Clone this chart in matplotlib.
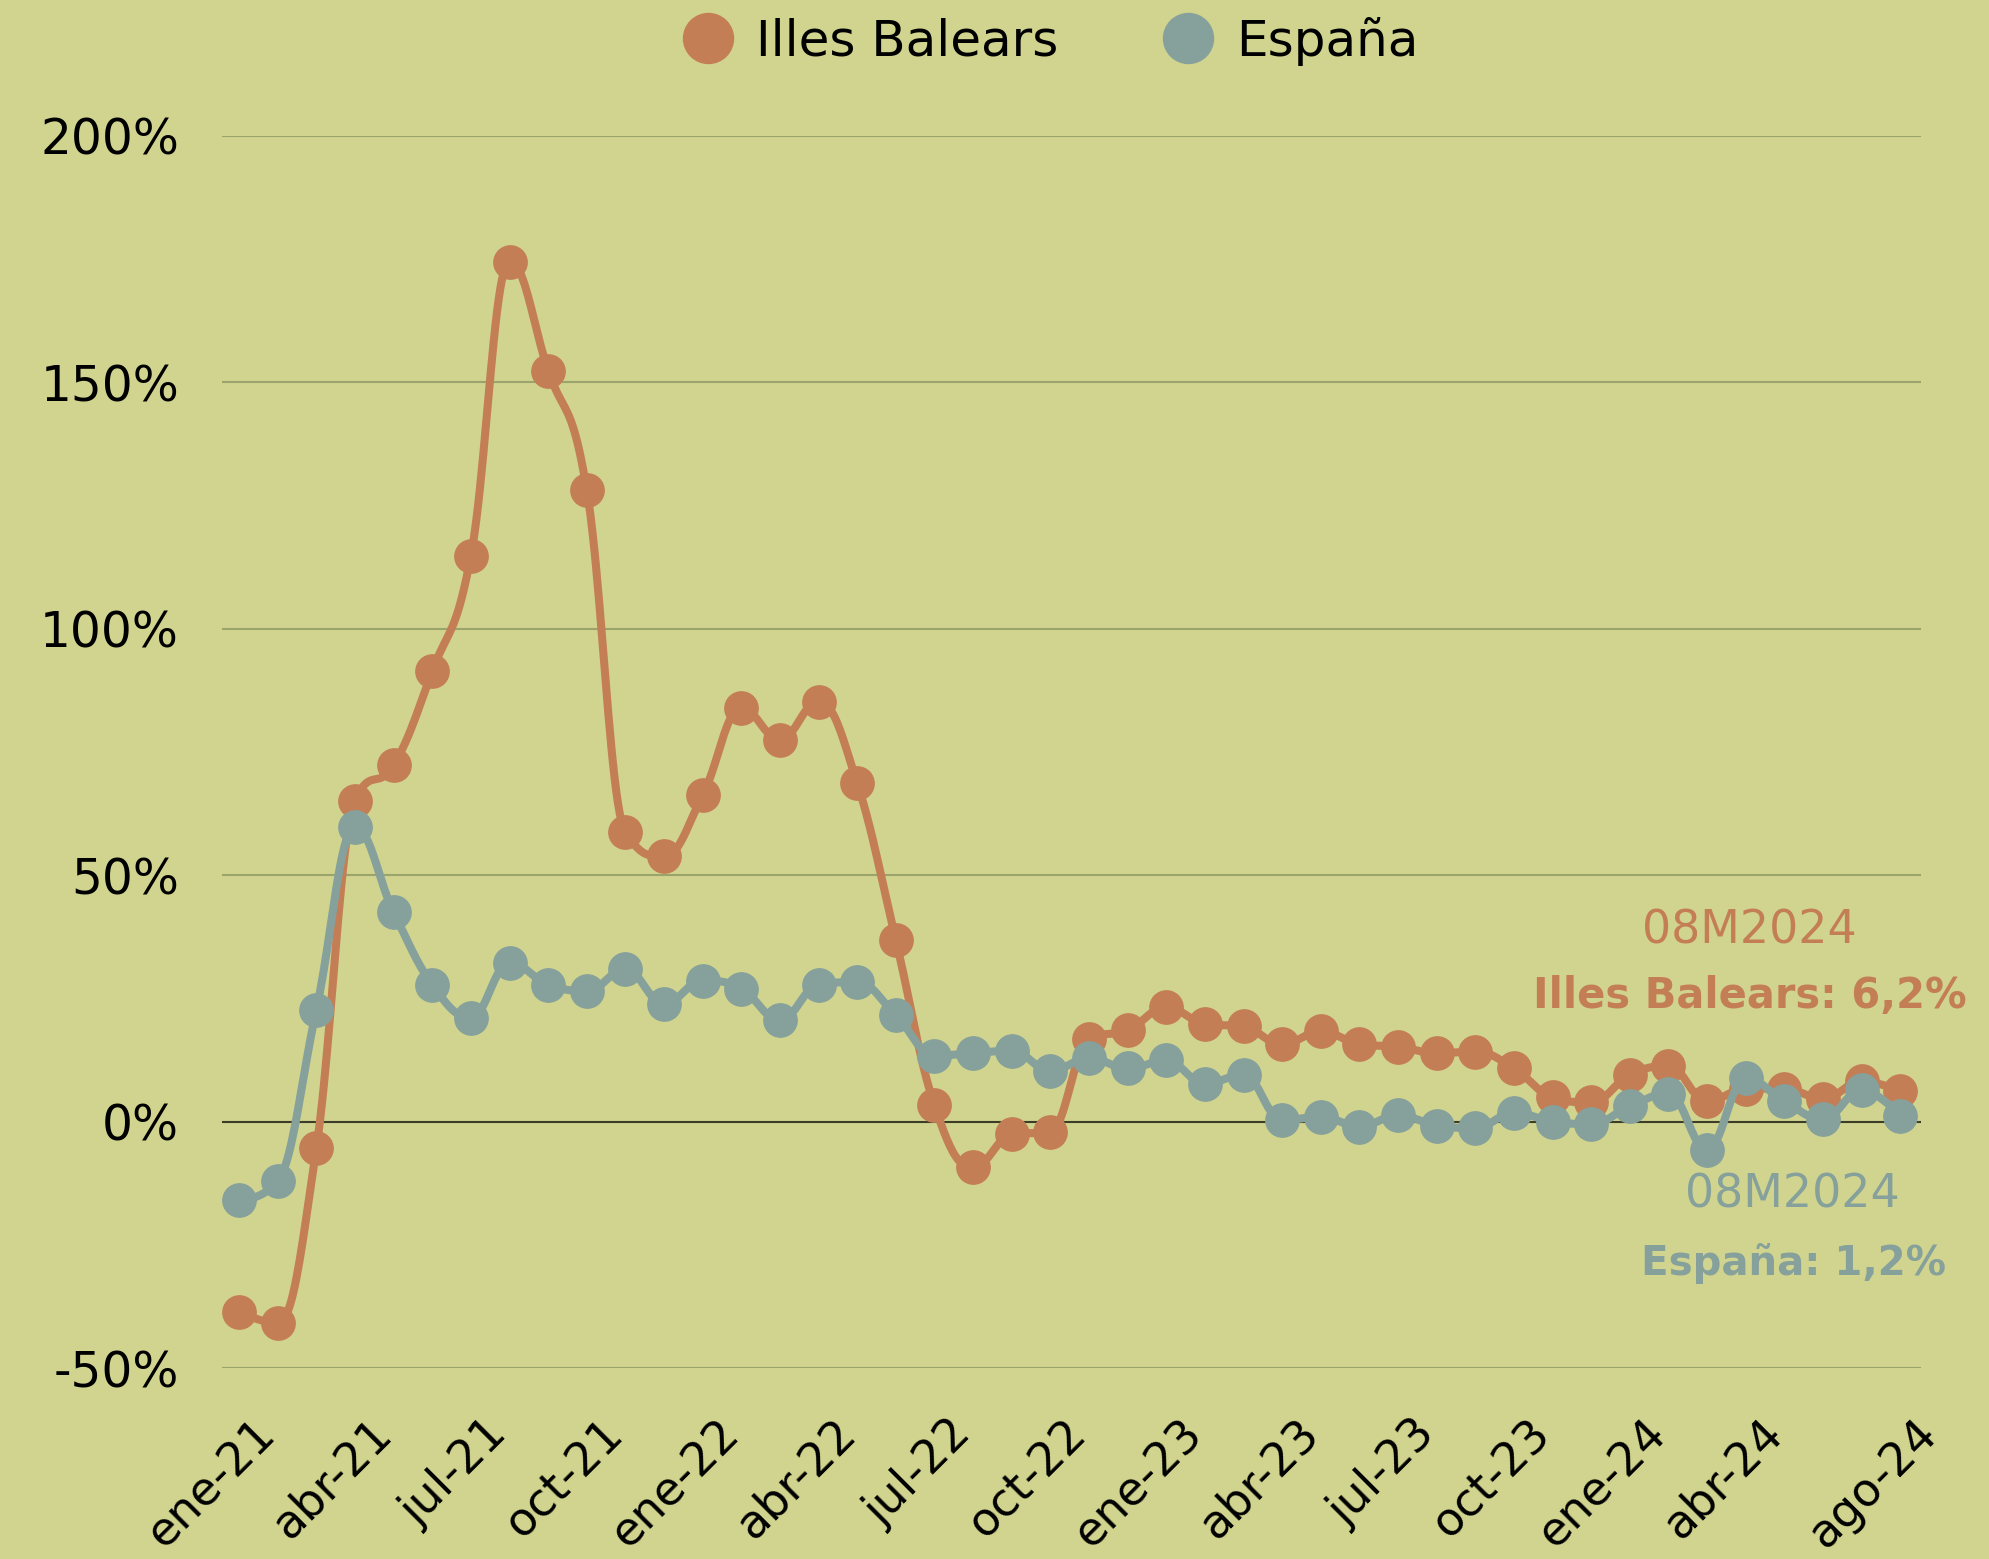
import numpy as np
import matplotlib.pyplot as plt
import matplotlib.transforms as mtransforms
from matplotlib.lines import Line2D

plt.rcParams['font.family'] = ['DejaVu Sans']

# monthly series, ene-21 .. ago-24 (% change)
months = ['ene', 'feb', 'mar', 'abr', 'may', 'jun', 'jul', 'ago', 'sep', 'oct', 'nov', 'dic']
years = [21, 22, 23, 24]
baleares = [-38.6, -40.9, -5.4, 65.1, 72.3, 91.4, 114.8, 174.5, 152.4, 128.2, 58.7, 53.8,
            66.2, 83.9, 77.5, 85.2, 68.7, 36.8, 3.3, -9.3, -2.6, -2.1, 16.7, 18.5,
            23.2, 19.8, 19.3, 15.7, 18.3, 15.7, 15.2, 13.9, 14.2, 10.8, 4.9, 3.9,
            9.5, 11.3, 4.1, 6.7, 6.7, 4.6, 8.2, 6.2]
espana = [-16.0, -12.1, 22.7, 59.7, 42.5, 27.8, 21.1, 32.2, 27.8, 26.5, 30.9, 23.9,
          28.6, 27.0, 20.6, 27.8, 28.3, 21.6, 13.4, 13.9, 14.4, 10.3, 12.9, 10.8,
          12.4, 7.7, 9.5, 0.3, 1.0, -1.0, 1.3, -0.8, -1.3, 1.8, 0.0, -0.5,
          3.1, 5.7, -5.7, 8.8, 4.1, 0.5, 6.4, 1.2]
yticks = [-50, 0, 50, 100, 150, 200]

labels = [f'{m}-{y}' for y in years for m in months][:len(baleares)]

ORANGE = '#c47e55'
GRAY = '#86a19c'
BG = '#d1d48e'


def spline(x, y, n=24, k=1.5):
    # Highcharts-style spline: bezier control points, clamped at extremes
    x = np.asarray(x, float)
    y = np.asarray(y, float)
    m = len(x)
    lc = np.column_stack([x, y]).copy()
    rc = np.column_stack([x, y]).copy()
    for i in range(1, m - 1):
        lx = (k * x[i] + x[i - 1]) / (k + 1)
        ly = (k * y[i] + y[i - 1]) / (k + 1)
        rx = (k * x[i] + x[i + 1]) / (k + 1)
        ry = (k * y[i] + y[i + 1]) / (k + 1)
        corr = (ry - ly) * (rx - x[i]) / (rx - lx) + y[i] - ry
        ly += corr
        ry += corr
        if ly > y[i - 1] and ly > y[i]:
            ly = max(y[i - 1], y[i]); ry = 2 * y[i] - ly
        elif ly < y[i - 1] and ly < y[i]:
            ly = min(y[i - 1], y[i]); ry = 2 * y[i] - ly
        if ry > y[i + 1] and ry > y[i]:
            ry = max(y[i + 1], y[i]); ly = 2 * y[i] - ry
        elif ry < y[i + 1] and ry < y[i]:
            ry = min(y[i + 1], y[i]); ly = 2 * y[i] - ry
        lc[i] = lx, ly
        rc[i] = rx, ry
    t = np.linspace(0, 1, n)[:, None]
    segs = []
    for i in range(m - 1):
        p0 = np.array([x[i], y[i]])
        p3 = np.array([x[i + 1], y[i + 1]])
        p1, p2 = rc[i], lc[i + 1]
        segs.append((1 - t) ** 3 * p0 + 3 * (1 - t) ** 2 * t * p1
                    + 3 * (1 - t) * t ** 2 * p2 + t ** 3 * p3)
    pts = np.vstack(segs)
    return pts[:, 0], pts[:, 1]


fig = plt.figure(figsize=(19.9, 15.59), dpi=100)
fig.patch.set_facecolor(BG)
ax = fig.add_axes([0.1116, 0.1225, 0.8538, 0.7903])
ax.set_facecolor(BG)

x = np.arange(len(baleares))
for vals, col, z in ((baleares, ORANGE, 3), (espana, GRAY, 4)):
    sx, sy = spline(x, vals)
    ax.plot(sx, sy, color=col, lw=5.8, zorder=z, clip_on=False, solid_capstyle='round')
    ax.plot(x, vals, 'o', color=col, ms=24, zorder=z, clip_on=False)

ax.set_xlim(-0.44, 43.54)
ax.set_ylim(-50, 200)
ax.set_yticks(yticks)
ax.set_yticklabels([f'{v}%' for v in yticks])
for v in yticks:
    ax.axhline(v, color='#3b3d26' if v == 0 else '#9aa46c', lw=1.5, zorder=1)

tick_idx = list(range(0, len(labels) - 3, 3)) + [len(labels) - 1]
ax.set_xticks(tick_idx)
ax.set_xticklabels([labels[i] for i in tick_idx], rotation=45, ha='right',
                   rotation_mode='anchor')
ax.tick_params(axis='both', length=0, colors='black')
ax.tick_params(axis='y', pad=31, labelsize=35)
ax.tick_params(axis='x', pad=31, labelsize=33)
shift = mtransforms.ScaledTranslation(0.14, 0, fig.dpi_scale_trans)
for lab in ax.get_xticklabels():
    lab.set_transform(lab.get_transform() + shift)
for s in ax.spines.values():
    s.set_visible(False)

# end-of-series labels
fig.text(1749 / 1990, 1 - 931 / 1559, '08M2024', color=ORANGE, fontsize=33,
         ha='center', va='center')
fig.text(1967 / 1990, 1 - 996 / 1559, f'Illes Balears: {baleares[-1]:.1f}%'.replace('.', ','),
         color=ORANGE, fontsize=30, fontweight='bold', ha='right', va='center')
fig.text(1792 / 1990, 1 - 1195 / 1559, '08M2024', color=GRAY, fontsize=33,
         ha='center', va='center')
fig.text(1946 / 1990, 1 - 1263 / 1559, f'España: {espana[-1]:.1f}%'.replace('.', ','),
         color=GRAY, fontsize=29, fontweight='bold', ha='right', va='center')

handles = [Line2D([], [], marker='o', ls='', color=ORANGE, ms=36),
           Line2D([], [], marker='o', ls='', color=GRAY, ms=36)]
fig.legend(handles, ['Illes Balears', 'España'], loc='center', ncol=2,
           bbox_to_anchor=(0.528, 1 - 41 / 1559), frameon=False, fontsize=36,
           handletextpad=0.45, columnspacing=2.1, handlelength=1.0)

fig.savefig('out.png', dpi=100, facecolor=BG)
